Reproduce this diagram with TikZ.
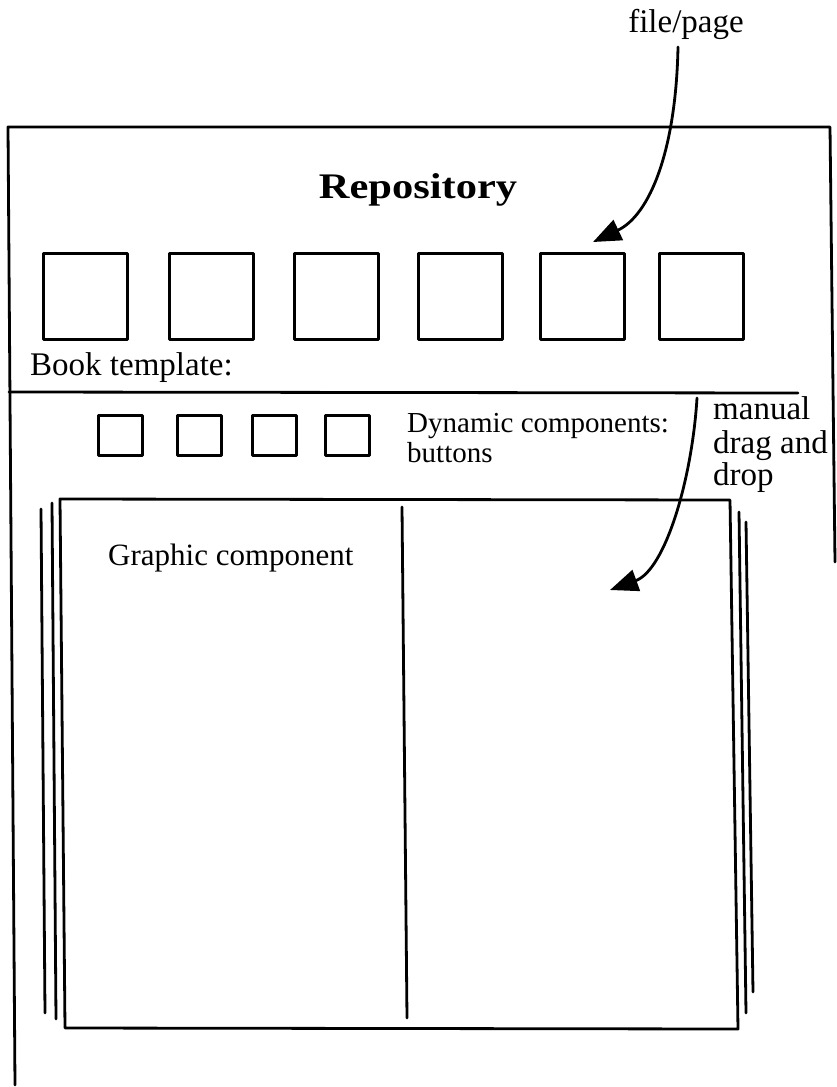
\documentclass[tikz,border=0pt]{standalone}
\usepackage{fontspec}
\setmainfont{Liberation Serif}
\usetikzlibrary{arrows.meta}

\newcommand{\pal}{\fontsize{33}{38}\selectfont}
\newcommand{\palbold}{\bfseries\fontsize{36}{40}\selectfont}
\newcommand{\tms}{\fontsize{29}{34}\selectfont}
\newcommand{\tmsbig}{\fontsize{31}{36}\selectfont}

\tikzset{
  ink/.style={line width=2.8pt, line cap=round, line join=round},
  repobox/.style={ink, draw, minimum width=84pt, minimum height=86pt, inner sep=0pt, anchor=north west},
  btnbox/.style={ink, draw, minimum width=44pt, minimum height=40pt, inner sep=0pt, anchor=north west},
  label/.style={inner sep=0pt, anchor=base west},
  dragarrow/.style={ink, -{Triangle[length=28pt,width=22pt]}},
}

\begin{document}
\begin{tikzpicture}[x=1pt,y=-1pt]
  \useasboundingbox (0,0) rectangle (837,1087);

  % outer frame of the application window
  \coordinate (frameTL) at (8,127);
  \coordinate (frameTR) at (830,127);
  \coordinate (frameR)  at (835,562);
  \coordinate (frameBL) at (15,1085);
  \draw[ink] (frameBL) -- (frameTL) -- (frameTR) -- (frameR);

  % separator between repository and book template
  \coordinate (sepL) at (9,392);
  \coordinate (sepR) at (798,393);
  \draw[ink] (sepL) -- (sepR);

  % repository
  \node[font=\palbold, inner sep=0pt, anchor=base, xscale=1.18] (repo) at (418,198) {Repository};
  \node[repobox] (r1) at (42,252) {};
  \node[repobox] (r2) at (168,252) {};
  \node[repobox] (r3) at (293,252) {};
  \node[repobox] (r4) at (417,252) {};
  \node[repobox] (r5) at (539,252) {};
  \node[repobox] (r6) at (658,252) {};
  \node[label, font=\pal] (book) at (30,375) {Book template:};

  % file/page label and its arrow into the repository
  \node[font=\pal, inner sep=0pt, anchor=base] (fp) at (686,32) {file/page};
  \coordinate (fpStart) at (678,47);
  \coordinate (fpTip) at (593,242);
  \draw[dragarrow] (fpStart) .. controls (676,150) and (650,215) .. (fpTip);

  % dynamic component buttons
  \node[btnbox] (b1) at (97,414) {};
  \node[btnbox] (b2) at (176,414) {};
  \node[btnbox] (b3) at (251,414) {};
  \node[btnbox] (b4) at (324,414) {};
  \node[label, font=\tms] (dyn) at (407,432) {Dynamic components:};
  \node[label, font=\tms] (btn) at (407,462) {buttons};

  % manual drag and drop label and arrow into the book
  \node[label, font=\pal] (man1) at (713,419) {manual};
  \node[label, font=\pal] (man2) at (713,453) {drag and};
  \node[label, font=\pal] (man3) at (713,485) {drop};
  \coordinate (ddStart) at (697,398);
  \coordinate (ddTip) at (610,590);

  % open book with stacked pages
  \coordinate (bkTL) at (60,499);
  \coordinate (bkTR) at (730,500);
  \coordinate (bkBR) at (738,1029);
  \coordinate (bkBL) at (65,1028);
  \draw[ink] (bkTL) -- (bkTR) -- (bkBR) -- (bkBL) -- cycle;
  \coordinate (spineT) at (402,507);
  \coordinate (spineB) at (407,1018);
  \draw[ink] (spineT) -- (spineB);

  \coordinate (pgL1t) at (41,509);  \coordinate (pgL1b) at (45,1013);
  \coordinate (pgL2t) at (52,503);  \coordinate (pgL2b) at (56,1019);
  \coordinate (pgR1t) at (739,512); \coordinate (pgR1b) at (746,1013);
  \coordinate (pgR2t) at (746,522); \coordinate (pgR2b) at (753,992);
  \draw[ink] (pgL1t) -- (pgL1b);
  \draw[ink] (pgL2t) -- (pgL2b);
  \draw[ink] (pgR1t) -- (pgR1b);
  \draw[ink] (pgR2t) -- (pgR2b);

  \node[label, font=\tmsbig] (graphic) at (108,565) {Graphic component};

  \draw[dragarrow] (ddStart) .. controls (692,480) and (665,570) .. (ddTip);
\end{tikzpicture}
\end{document}
